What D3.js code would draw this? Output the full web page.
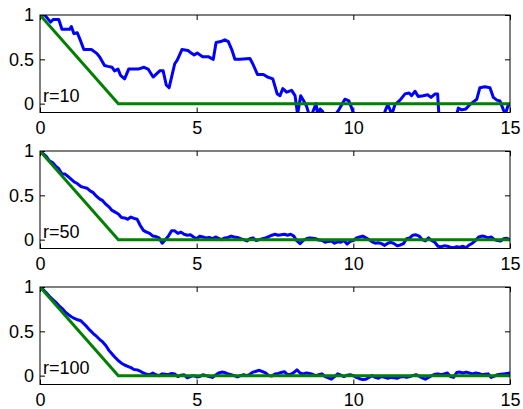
<!DOCTYPE html>
<html>
<head>
<meta charset="utf-8">
<script src="https://cdn.jsdelivr.net/npm/d3@7"></script>
<style>
  html, body { margin: 0; padding: 0; background: #fff; }
  svg { display: block; }
  text { font-family: "Liberation Sans", Arial, sans-serif; fill: #000; }
</style>
</head>
<body>
<svg id="chart" width="523" height="409"></svg>
<script>
// ---- data ----
const panelLabels = ["r=10", "r=50", "r=100"];
const xTicks = [0, 5, 10, 15];
const yTicks = [0, 0.5, 1];
const yTickLabels = ["0", "0.5", "1"];

// green reference line (same in every panel)
const refT = [0, 2.5, 15];
const refV = [1, 0, 0];

// r=10 (irregular sample times)
const t10 = [0,0.15,0.34,0.42,0.60,0.70,0.95,1.00,1.08,1.19,1.27,1.40,1.64,1.80,1.90,2.06,2.17,2.30,2.38,2.49,2.57,2.70,2.83,3.13,3.32,3.45,3.61,3.82,3.93,4.03,4.12,4.30,4.38,4.53,4.72,4.79,4.92,5.02,5.19,5.37,5.53,5.62,5.77,5.90,6.01,6.12,6.22,6.38,6.70,6.79,6.94,7.13,7.26,7.43,7.57,7.66,7.75,7.87,8.03,8.14,8.22,8.32,8.40,8.51,8.60,8.70,8.81,8.86,8.94,9.02,9.15,9.35,9.52,9.73,9.86,9.97,10.05,10.5,10.95,11.03,11.10,11.23,11.33,11.49,11.65,11.78,11.86,11.97,12.07,12.23,12.37,12.48,12.61,12.69,12.73,13.0,13.3,13.35,13.46,13.59,13.72,13.83,13.94,14.04,14.20,14.36,14.47,14.58,14.68,14.79,14.85,14.93,15.0];
const v10 = [1.0,1.0,0.92,0.95,0.95,0.84,0.84,0.87,0.79,0.80,0.73,0.61,0.61,0.57,0.53,0.43,0.42,0.41,0.37,0.39,0.32,0.28,0.39,0.39,0.41,0.39,0.30,0.37,0.37,0.21,0.18,0.45,0.49,0.61,0.60,0.58,0.55,0.57,0.53,0.53,0.50,0.69,0.70,0.72,0.70,0.61,0.50,0.50,0.51,0.45,0.33,0.33,0.30,0.28,0.11,0.09,0.17,0.13,0.15,0.09,-0.12,0.09,0.04,-0.03,-0.14,-0.10,0.0,-0.12,-0.06,-0.09,-0.18,-0.16,-0.08,0.05,0.03,-0.07,-0.2,-0.25,-0.15,-0.07,-0.01,-0.12,-0.01,0.04,0.11,0.12,0.09,0.14,0.08,0.09,0.10,0.07,0.11,0.11,-0.12,-0.25,-0.12,-0.05,-0.07,-0.06,-0.01,0.02,0.05,0.18,0.19,0.18,0.07,0.04,0.03,-0.07,-0.12,-0.03,0.0];

// r=50 and r=100 are sampled every 0.1 from 0 to 15
const tGrid = d3.range(151).map(k => k / 10);
const v50 = [1.00,0.97,0.94,0.89,0.87,0.83,0.80,0.74,0.74,0.71,
  0.68,0.65,0.63,0.60,0.59,0.58,0.55,0.53,0.49,0.46,
  0.44,0.40,0.37,0.33,0.31,0.29,0.25,0.245,0.23,0.255,
  0.24,0.23,0.16,0.105,0.085,0.07,0.04,0.035,0.02,-0.04,
  0.0,0.04,0.10,0.10,0.07,0.085,0.06,0.05,0.055,0.03,
  0.01,0.04,0.03,0.02,0.025,0.01,0.03,0.015,0.0,0.02,
  0.025,0.04,0.03,0.025,0.01,0.0,-0.015,0.01,0.02,-0.01,
  0.0,0.01,0.02,0.035,0.05,0.06,0.05,0.055,0.06,0.05,
  0.06,0.04,-0.015,-0.045,-0.01,0.01,0.02,0.015,0.01,-0.005,
  -0.01,-0.03,-0.02,-0.015,-0.04,-0.025,-0.03,-0.01,-0.05,-0.02,
  -0.01,0.02,0.03,0.04,0.02,0.0,-0.025,-0.04,-0.035,-0.045,
  -0.065,-0.04,-0.03,-0.045,-0.07,-0.06,-0.045,0.01,0.02,0.05,
  0.055,0.04,0.0,-0.015,0.02,-0.01,-0.03,-0.075,-0.08,-0.07,
  -0.075,-0.085,-0.09,-0.08,-0.085,-0.075,-0.09,-0.06,-0.04,-0.01,
  0.03,0.04,0.035,0.02,0.03,0.0,-0.01,-0.015,0.01,0.015,
  0.0];
const v100 = [1.00,0.97,0.935,0.895,0.86,0.83,0.79,0.76,0.72,0.69,
  0.665,0.645,0.63,0.62,0.585,0.55,0.51,0.475,0.445,0.41,
  0.38,0.34,0.285,0.245,0.205,0.17,0.14,0.12,0.105,0.09,
  0.07,0.065,0.05,0.03,0.015,0.01,0.03,0.01,0.0,0.02,
  0.015,0.01,0.025,0.02,-0.01,0.005,0.01,-0.025,-0.01,0.0,
  -0.015,-0.01,0.01,0.0,-0.01,-0.02,0.005,0.03,0.04,0.035,
  0.02,0.01,0.0,-0.015,0.0,0.01,0.0,0.015,0.04,0.05,
  0.06,0.045,0.03,0.0,-0.005,0.02,0.025,0.035,0.045,0.01,
  0.015,0.035,0.065,0.03,0.02,0.03,0.025,0.015,0.0,0.01,
  0.02,-0.01,-0.025,-0.04,-0.01,0.02,0.005,-0.01,0.005,0.01,
  0.0,-0.02,-0.035,-0.045,-0.04,-0.02,0.0,-0.02,-0.03,-0.01,
  -0.02,-0.03,-0.02,-0.025,-0.03,-0.015,-0.01,-0.02,-0.01,0.0,
  0.01,-0.005,-0.025,-0.04,-0.02,0.0,0.015,0.02,0.01,0.02,
  0.03,-0.01,-0.02,0.035,0.04,0.03,0.04,0.03,0.02,0.03,
  0.025,0.01,0.015,0.02,-0.02,-0.005,0.01,0.015,0.02,0.025,
  0.03];

const series = [
  {label: panelLabels[0], t: t10, v: v10},
  {label: panelLabels[1], t: tGrid, v: v50},
  {label: panelLabels[2], t: tGrid, v: v100}
];

// ---- layout ----
const svg = d3.select("#chart");
const left = 40, right = 510;
const panelTops = [15, 151, 287];
const panelH = 97.5;
const fontSize = 18;

const x = d3.scaleLinear().domain([0, 15]).range([left, right]);

series.forEach((s, i) => {
  const top = panelTops[i];
  const y = d3.scaleLinear().domain([-0.1, 1]).range([top + panelH, top]);
  const g = svg.append("g");

  const clipId = "clip" + i;
  svg.append("clipPath").attr("id", clipId)
    .append("rect").attr("x", left).attr("y", top)
    .attr("width", right - left).attr("height", panelH);

  // axes with inward ticks
  const xb = g.append("g").attr("transform", `translate(0,${top + panelH})`)
    .call(d3.axisBottom(x).tickValues(xTicks).tickFormat(d3.format("d"))
      .tickSizeInner(-5).tickSizeOuter(0).tickPadding(9));
  const xt = g.append("g").attr("transform", `translate(0,${top})`)
    .call(d3.axisTop(x).tickValues(xTicks).tickFormat("")
      .tickSizeInner(-5).tickSizeOuter(0));
  const yl = g.append("g").attr("transform", `translate(${left},0)`)
    .call(d3.axisLeft(y).tickValues(yTicks).tickFormat((d, k) => yTickLabels[k])
      .tickSizeInner(-5).tickSizeOuter(0).tickPadding(6));
  const yr = g.append("g").attr("transform", `translate(${right},0)`)
    .call(d3.axisRight(y).tickValues(yTicks).tickFormat("")
      .tickSizeInner(-5).tickSizeOuter(0));
  [xb, xt, yl, yr].forEach(a => {
    a.select(".domain").remove();
    a.selectAll("line").attr("stroke", "#000").attr("stroke-width", 1);
    a.selectAll("text").attr("font-size", fontSize)
      .attr("font-family", "'Liberation Sans', Arial, sans-serif").attr("fill", "#000");
  });

  const line = d3.line().x(d => x(d[0])).y(d => y(d[1]));
  const blueData = s.t.map((tt, k) => [tt, s.v[k]]);
  const greenData = refT.map((tt, k) => [tt, refV[k]]);

  g.append("path").datum(blueData)
    .attr("clip-path", `url(#${clipId})`)
    .attr("fill", "none").attr("stroke", "#0000ff").attr("stroke-width", 3)
    .attr("stroke-linejoin", "round").attr("d", line);
  g.append("path").datum(greenData)
    .attr("clip-path", `url(#${clipId})`)
    .attr("fill", "none").attr("stroke", "#008000").attr("stroke-width", 3)
    .attr("d", line);

  // box
  g.append("rect").attr("x", left).attr("y", top)
    .attr("width", right - left).attr("height", panelH)
    .attr("fill", "none").attr("stroke", "#000").attr("stroke-width", 1);

  g.append("text").attr("x", 43).attr("y", top + 87)
    .attr("font-size", fontSize).text(s.label);
});
</script>
</body>
</html>
